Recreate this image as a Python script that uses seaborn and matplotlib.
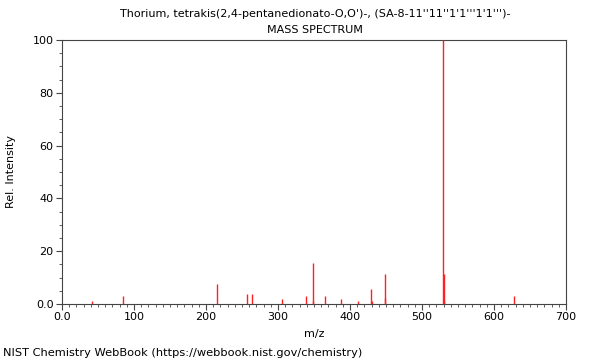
import matplotlib
matplotlib.use("Agg")
import matplotlib.pyplot as plt
import seaborn as sns
import numpy as np
import pandas as pd
from matplotlib.ticker import MultipleLocator, FuncFormatter

title_line1 = "Thorium, tetrakis(2,4-pentanedionato-O,O')-, (SA-8-11''11''1'1'''1'1''')-"
title_line2 = "MASS SPECTRUM"
footer = "NIST Chemistry WebBook (https://webbook.nist.gov/chemistry)"

mz = [42, 85, 215, 257, 264, 305, 339, 348, 349, 365, 387, 411, 429, 430,
      448, 449, 529, 530, 531, 628]
intensity = [1.0, 3.2, 7.7, 3.9, 3.8, 1.9, 3.0, 15.4, 1.0, 3.0, 1.8, 1.0, 5.7, 1.0,
             11.5, 2.1, 100.0, 11.5, 1.0, 3.0]

df = pd.DataFrame({"mz": mz, "intensity": intensity})

sns.set_style("ticks")
plt.rcParams["font.family"] = ["DejaVu Sans"]
plt.rcParams["text.color"] = "black"
plt.rcParams["axes.labelcolor"] = "black"
plt.rcParams["xtick.color"] = "black"
plt.rcParams["ytick.color"] = "black"

fig = plt.figure(figsize=(6, 3.6), dpi=100)
ax = fig.add_axes([62/600, 1-304/360, 504/600, 264/360])

ax.vlines(df["mz"], 0, df["intensity"], color="#ff2020", linewidth=1.0,
          zorder=3)

ax.set_xlim(0, 700)
ax.set_ylim(0, 100)
ax.xaxis.set_major_locator(MultipleLocator(100))
ax.xaxis.set_minor_locator(MultipleLocator(10))
ax.yaxis.set_major_locator(MultipleLocator(20))
ax.yaxis.set_minor_locator(MultipleLocator(5))
fmt = FuncFormatter(lambda v, p: "0.0" if v == 0 else f"{int(v)}")
ax.xaxis.set_major_formatter(fmt)
ax.yaxis.set_major_formatter(fmt)
ax.tick_params(axis="both", which="major", direction="out", length=4, width=0.8,
               labelsize=8, color="#444444", labelcolor="black", pad=2)
ax.tick_params(axis="both", which="minor", direction="out", length=2, width=0.6,
               color="#444444")
for s in ax.spines.values():
    s.set_visible(True)
    s.set_linewidth(0.8)
    s.set_color("#444444")

ax.set_xlabel("m/z", fontsize=8, labelpad=5)
ax.set_ylabel("Rel. Intensity", fontsize=8, labelpad=12)

fig.text(0.525, 1-14/360, title_line1, ha="center", va="center", fontsize=8)
fig.text(0.525, 1-30/360, title_line2, ha="center", va="center", fontsize=8)
fig.text(3/600, 1-353/360, footer, ha="left", va="center", fontsize=8.2)

fig.savefig("out.png", dpi=100)
